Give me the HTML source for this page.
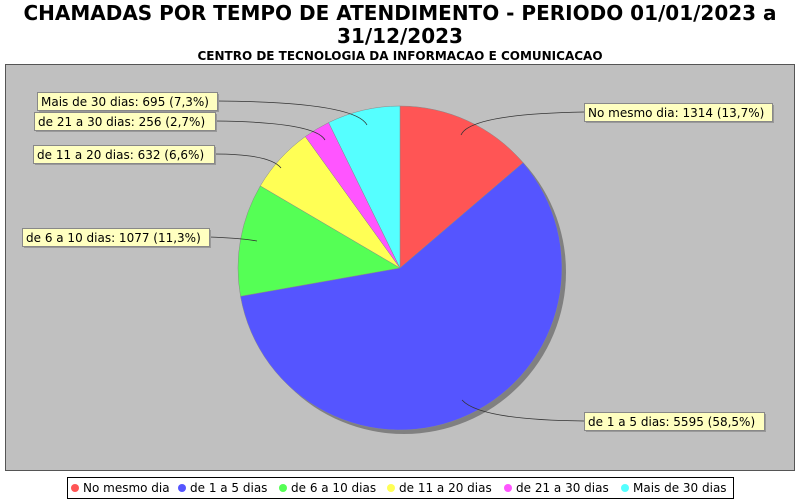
<!DOCTYPE html>
<html><head><meta charset="utf-8"><style>
body{margin:0;background:#fff;}
svg{display:block;font-family:"DejaVu Sans","Liberation Sans",sans-serif;}
</style></head><body>
<svg width="800" height="500" viewBox="0 0 800 500" xmlns="http://www.w3.org/2000/svg">
<rect width="800" height="500" fill="#fff"/>
<text x="400" y="20" text-anchor="middle" font-size="20" font-weight="bold">CHAMADAS POR TEMPO DE ATENDIMENTO - PERIODO 01/01/2023 a</text>
<text x="400" y="43" text-anchor="middle" font-size="20" font-weight="bold">31/12/2023</text>
<text x="400" y="60" text-anchor="middle" font-size="12" font-weight="bold">CENTRO DE TECNOLOGIA DA INFORMACAO E COMUNICACAO</text>
<rect x="5.5" y="64.5" width="789" height="406" fill="#c0c0c0" stroke="#555" stroke-width="1"/>
<circle cx="404" cy="272" r="162" fill="#808080"/>
<g stroke="#888" stroke-width="0.5">
<path d="M400,268 L400,106 A162,162 0 0 1 523.1,162.7 Z" fill="#ff5555"/>
<path d="M400,268 L523.1,162.7 A162,162 0 1 1 240.5,296.3 Z" fill="#5555ff"/>
<path d="M400,268 L240.5,296.3 A162,162 0 0 1 260.3,185.9 Z" fill="#55ff55"/>
<path d="M400,268 L260.3,185.9 A162,162 0 0 1 305.3,136.6 Z" fill="#ffff55"/>
<path d="M400,268 L305.3,136.6 A162,162 0 0 1 328.6,122.6 Z" fill="#ff55ff"/>
<path d="M400,268 L328.6,122.6 A162,162 0 0 1 400,106 Z" fill="#55ffff"/>
</g>
<g fill="none" stroke="#333" stroke-width="0.8">
<path d="M584,112 Q470,114 461,135"/>
<path d="M584,421 Q480,420 462,400"/>
<path d="M217,101 Q355,102 367,125"/>
<path d="M215,121 Q315,122 325,140"/>
<path d="M214,154 Q270,154 281,168"/>
<path d="M209,237 Q240,238 257,241"/>
</g>
<g font-size="12">
<rect x="586" y="105" width="188" height="18" fill="#999"/>
<rect x="584.5" y="103.5" width="188" height="18" fill="#ffffc0" stroke="#888"/>
<text x="588" y="117">No mesmo dia: 1314 (13,7%)</text>
<rect x="586" y="414" width="180" height="18" fill="#999"/>
<rect x="584.5" y="412.5" width="180" height="18" fill="#ffffc0" stroke="#888"/>
<text x="588" y="426">de 1 a 5 dias: 5595 (58,5%)</text>
<rect x="39" y="94" width="180" height="18" fill="#999"/>
<rect x="37.5" y="92.5" width="180" height="18" fill="#ffffc0" stroke="#888"/>
<text x="41" y="106">Mais de 30 dias: 695 (7,3%)</text>
<rect x="36" y="114" width="181" height="18" fill="#999"/>
<rect x="34.5" y="112.5" width="181" height="18" fill="#ffffc0" stroke="#888"/>
<text x="38" y="126">de 21 a 30 dias: 256 (2,7%)</text>
<rect x="35" y="147" width="181" height="18" fill="#999"/>
<rect x="33.5" y="145.5" width="181" height="18" fill="#ffffc0" stroke="#888"/>
<text x="37" y="159">de 11 a 20 dias: 632 (6,6%)</text>
<rect x="24" y="230" width="187" height="18" fill="#999"/>
<rect x="22.5" y="228.5" width="187" height="18" fill="#ffffc0" stroke="#888"/>
<text x="26" y="242">de 6 a 10 dias: 1077 (11,3%)</text>
</g>
<rect x="67.5" y="477.5" width="666" height="21" fill="#fff" stroke="#000"/>
<g font-size="12" fill="#000">
<circle cx="75" cy="488" r="4" fill="#ff5555"/><text x="83" y="492">No mesmo dia</text>
<circle cx="182" cy="488" r="4" fill="#5555ff"/><text x="190" y="492">de 1 a 5 dias</text>
<circle cx="283" cy="488" r="4" fill="#55ff55"/><text x="291" y="492">de 6 a 10 dias</text>
<circle cx="391" cy="488" r="4" fill="#ffff55"/><text x="399" y="492">de 11 a 20 dias</text>
<circle cx="508" cy="488" r="4" fill="#ff55ff"/><text x="516" y="492">de 21 a 30 dias</text>
<circle cx="625" cy="488" r="4" fill="#55ffff"/><text x="633" y="492">Mais de 30 dias</text>
</g>
</svg>
</body></html>
